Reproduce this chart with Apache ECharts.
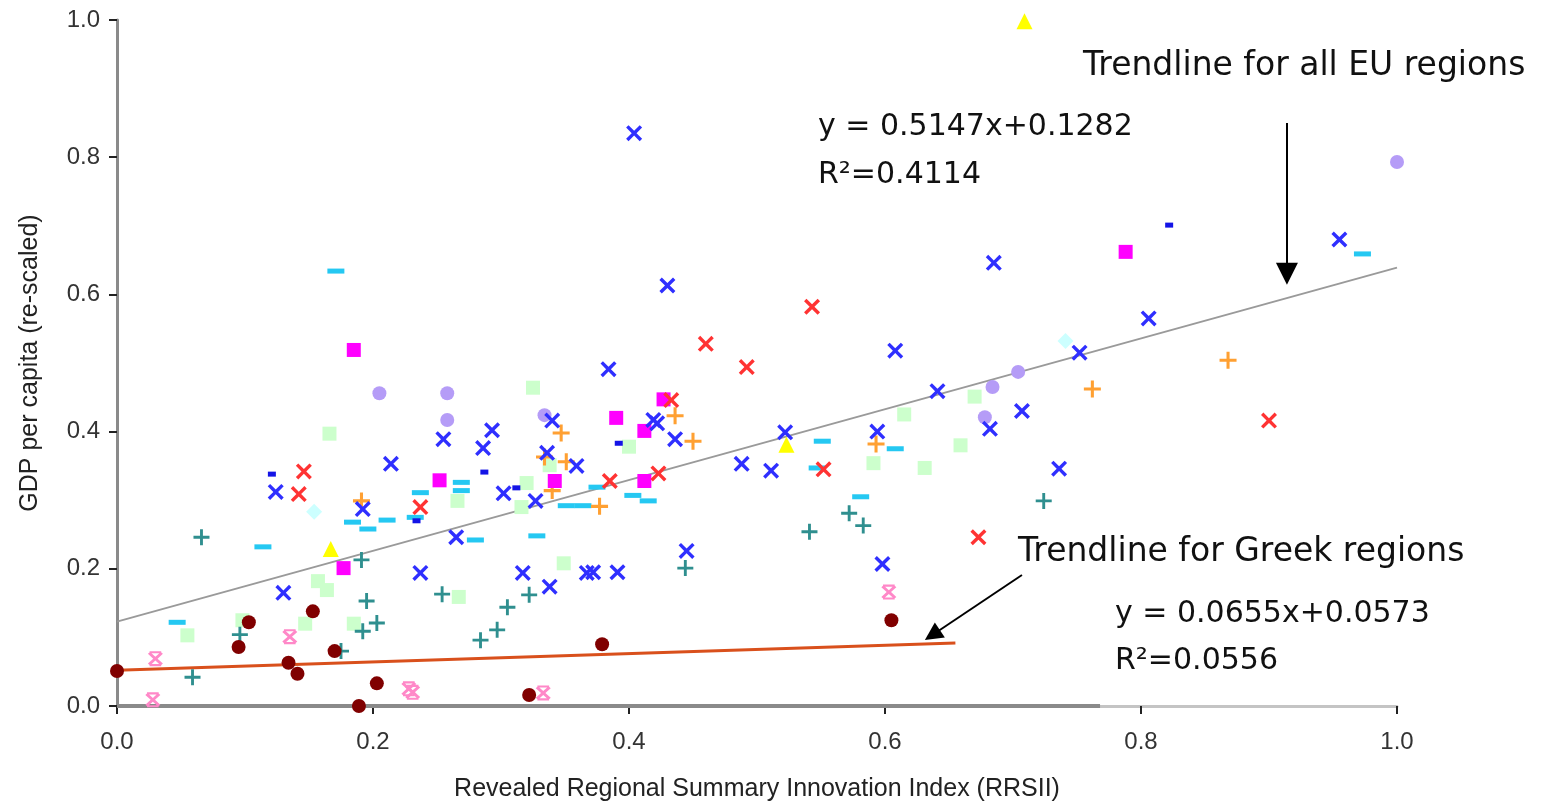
<!DOCTYPE html>
<html>
<head>
<meta charset="utf-8">
<script src="https://cdn.jsdelivr.net/npm/echarts/dist/echarts.min.js"></script>
<style>
html,body{margin:0;padding:0;background:#fff;}
#chart{width:1542px;height:803px;}
</style>
</head>
<body>
<div id="chart"></div>
<script>
// ---------- DATA ----------
var xTicks = [0.0, 0.2, 0.4, 0.6, 0.8, 1.0];
var yTicks = [0.0, 0.2, 0.4, 0.6, 0.8, 1.0];

var blueX = [[0.124,0.312],[0.130,0.165],[0.192,0.287],[0.214,0.353],[0.237,0.194],[0.255,0.389],[0.265,0.246],[0.286,0.376],[0.293,0.402],[0.302,0.310],[0.317,0.194],[0.327,0.299],[0.336,0.369],[0.338,0.174],[0.340,0.416],[0.359,0.350],[0.367,0.194],[0.372,0.195],[0.384,0.491],[0.391,0.195],[0.404,0.835],[0.419,0.417],[0.422,0.412],[0.430,0.613],[0.436,0.389],[0.445,0.226],[0.488,0.353],[0.511,0.343],[0.522,0.399],[0.594,0.400],[0.598,0.207],[0.608,0.518],[0.641,0.459],[0.682,0.404],[0.685,0.646],[0.707,0.430],[0.736,0.346],[0.752,0.515],[0.806,0.565],[0.955,0.680]];
var redX = [[0.142,0.309],[0.146,0.342],[0.237,0.290],[0.385,0.328],[0.423,0.339],[0.433,0.446],[0.460,0.528],[0.492,0.494],[0.543,0.582],[0.552,0.345],[0.673,0.246],[0.900,0.416]];
var pinkStar = [[0.028,0.009],[0.030,0.069],[0.135,0.101],[0.228,0.025],[0.231,0.020],[0.333,0.019],[0.603,0.166]];
var cyanDash = [[0.047,0.122],[0.114,0.232],[0.171,0.634],[0.184,0.268],[0.196,0.258],[0.211,0.271],[0.233,0.275],[0.237,0.311],[0.269,0.326],[0.269,0.314],[0.280,0.242],[0.328,0.248],[0.351,0.292],[0.364,0.292],[0.375,0.319],[0.403,0.307],[0.415,0.299],[0.547,0.347],[0.551,0.386],[0.581,0.305],[0.608,0.375],[0.973,0.659]];
var blueDash = [[0.121,0.338],[0.234,0.270],[0.287,0.341],[0.312,0.318],[0.392,0.383],[0.822,0.701]];
var magentaSq = [[0.177,0.201],[0.185,0.519],[0.252,0.329],[0.342,0.328],[0.390,0.420],[0.412,0.401],[0.412,0.328],[0.427,0.447],[0.788,0.662]];
var greenSq = [[0.055,0.103],[0.098,0.125],[0.147,0.120],[0.157,0.182],[0.164,0.169],[0.166,0.397],[0.185,0.120],[0.266,0.299],[0.267,0.159],[0.316,0.290],[0.320,0.325],[0.325,0.464],[0.338,0.351],[0.349,0.208],[0.400,0.378],[0.591,0.354],[0.615,0.425],[0.631,0.347],[0.659,0.380],[0.670,0.451]];
var purpleCircle = [[0.205,0.456],[0.258,0.456],[0.258,0.417],[0.334,0.424],[0.678,0.421],[0.684,0.465],[0.704,0.487],[1.0,0.793]];
var greekCircle = [[0.0,0.051],[0.095,0.086],[0.103,0.122],[0.134,0.063],[0.141,0.047],[0.153,0.138],[0.170,0.080],[0.189,0.0],[0.203,0.033],[0.322,0.016],[0.379,0.090],[0.605,0.125]];
var tealPlus = [[0.059,0.042],[0.066,0.246],[0.096,0.104],[0.175,0.080],[0.191,0.213],[0.192,0.109],[0.195,0.153],[0.203,0.121],[0.254,0.163],[0.284,0.096],[0.297,0.111],[0.305,0.144],[0.322,0.162],[0.444,0.201],[0.541,0.254],[0.572,0.281],[0.583,0.263],[0.724,0.299]];
var orangePlus = [[0.191,0.299],[0.334,0.363],[0.340,0.314],[0.347,0.398],[0.351,0.356],[0.377,0.291],[0.436,0.423],[0.450,0.386],[0.593,0.382],[0.762,0.462],[0.868,0.504]];
var yellowTri = [[0.167,0.229],[0.523,0.381],[0.709,0.998]];
var lightCyanDia = [[0.154,0.283],[0.741,0.532]];

var euTrend = [[0, 0.123], [1, 0.639]];
var greekTrend = [[0, 0.052], [0.655, 0.092]];
var xAxisShade = [[0, 0], [0.768, 0]];

var euArrow = [[0.914, 0.850], [0.914, 0.630]];
var greekArrow = [[0.707, 0.191], [0.637, 0.1035]];

var xAxisTitle = 'Revealed Regional Summary Innovation Index (RRSII)';
var yAxisTitle = 'GDP per capita (re-scaled)';
var euLabel = 'Trendline for all EU regions';
var euEq = 'y = 0.5147x+0.1282';
var euR2 = 'R\u00B2=0.4114';
var grLabel = 'Trendline for Greek regions';
var grEq = 'y = 0.0655x+0.0573';
var grR2 = 'R\u00B2=0.0556';

// ---------- SYMBOLS ----------
var X_PATH = 'path://M0,1.5 L1.5,0 L5,3.5 L8.5,0 L10,1.5 L6.5,5 L10,8.5 L8.5,10 L5,6.5 L1.5,10 L0,8.5 L3.5,5 Z';
var PLUS_PATH = 'path://M4.1,0 H5.9 V4.1 H10 V5.9 H5.9 V10 H4.1 V5.9 H0 V4.1 H4.1 Z';
var STAR_PATH = 'path://M0.5,1.8 L1.8,0.5 L5,3.7 L8.2,0.5 L9.5,1.8 L6.3,5 L9.5,8.2 L8.2,9.5 L5,6.3 L1.8,9.5 L0.5,8.2 L3.7,5 Z M1.5,0 H8.5 V1.4 H1.5 Z M1.5,8.6 H8.5 V10 H1.5 Z';

var annFont = "'DejaVu Sans',Verdana,sans-serif";
var axFont = "'Liberation Sans',Arial,sans-serif";

function scatter(name, data, symbol, size, color, z) {
  return {
    name: name, type: 'scatter', data: data, symbol: symbol, symbolSize: size,
    itemStyle: {color: color, opacity: 1}, clip: false, z: z || 3, silent: true
  };
}
function arrowLine(pts, size) {
  return [{coord: pts[0], symbol: 'none'}, {coord: pts[1], symbol: 'triangle', symbolSize: size}];
}

var chart = echarts.init(document.getElementById('chart'), null, {renderer: 'canvas'});
var option = {
  animation: false,
  backgroundColor: '#ffffff',
  grid: {left: 117, right: 145, top: 20, bottom: 97, containLabel: false, outerBoundsMode: 'none'},
  xAxis: {
    type: 'value', min: xTicks[0], max: xTicks[xTicks.length - 1], interval: 0.2,
    name: xAxisTitle, nameLocation: 'middle', nameGap: 71,
    nameTextStyle: {fontFamily: axFont, fontSize: 25, color: '#222'},
    axisLine: {show: true, lineStyle: {color: '#c4c4c4', width: 3}},
    axisTick: {show: true, length: 8, lineStyle: {color: '#222', width: 2}},
    axisLabel: {fontFamily: axFont, fontSize: 24, color: '#333', margin: 24,
      formatter: function (v) { return v.toFixed(1); }},
    splitLine: {show: false}
  },
  yAxis: {
    type: 'value', min: yTicks[0], max: yTicks[yTicks.length - 1], interval: 0.2,
    name: yAxisTitle, nameLocation: 'middle', nameGap: 74, nameRotate: 90,
    nameTextStyle: {fontFamily: axFont, fontSize: 25, color: '#222'},
    axisLine: {show: true, lineStyle: {color: '#8a8a8a', width: 3}},
    axisTick: {show: true, length: 8, lineStyle: {color: '#222', width: 2}},
    axisLabel: {fontFamily: axFont, fontSize: 24, color: '#333', margin: 17,
      formatter: function (v) { return v.toFixed(1); }},
    splitLine: {show: false}
  },
  series: [
    {name: 'axisShade', type: 'line', data: xAxisShade, showSymbol: false, symbol: 'none', clip: false, silent: true, z: 1,
      lineStyle: {color: '#8a8a8a', width: 4}},
    {name: 'EU trend', type: 'line', data: euTrend, showSymbol: false, symbol: 'none', silent: true, z: 2,
      lineStyle: {color: '#9a9a9a', width: 2},
      markLine: {silent: true, symbol: ['none', 'triangle'], label: {show: false},
        lineStyle: {color: '#000', width: 2, type: 'solid'}, emphasis: {disabled: true},
        data: [arrowLine(euArrow, 22), arrowLine(greekArrow, 18)]}},
    {name: 'Greek trend', type: 'line', data: greekTrend, showSymbol: false, symbol: 'none', silent: true, z: 2,
      lineStyle: {color: '#d9501c', width: 3}},
    scatter('green', greenSq, 'rect', 14, '#ccffcc'),
    scatter('cyan', cyanDash, 'rect', [17, 5], '#25c8f2'),
    scatter('teal', tealPlus, PLUS_PATH, 16, '#2f8f8f'),
    scatter('orange', orangePlus, PLUS_PATH, 17, '#ffa032'),
    scatter('purple', purpleCircle, 'circle', 14, '#b59cf7'),
    scatter('magenta', magentaSq, 'rect', 14, '#ff00ff'),
    scatter('lightcyan', lightCyanDia, 'diamond', 16, '#ccffff'),
    scatter('blueX', blueX, X_PATH, 16, '#2f2fff'),
    scatter('redX', redX, X_PATH, 16, '#ff3333'),
    scatter('blueDash', blueDash, 'rect', [8, 5], '#1414e6'),
    scatter('pink', pinkStar, STAR_PATH, 15, '#ff88c8'),
    scatter('yellow', yellowTri, 'triangle', 16, '#ffff00'),
    scatter('greek', greekCircle, 'circle', 14, '#800000', 4)
  ],
  graphic: [
    {type: 'text', left: 1083, top: 50, style: {text: euLabel, font: '33px ' + annFont, fill: '#111'}},
    {type: 'text', left: 818, top: 112, style: {text: euEq, font: '30px ' + annFont, fill: '#111'}},
    {type: 'text', left: 818, top: 160, style: {text: euR2, font: '30px ' + annFont, fill: '#111'}},
    {type: 'text', left: 1018, top: 536, style: {text: grLabel, font: '33px ' + annFont, fill: '#111'}},
    {type: 'text', left: 1115, top: 599, style: {text: grEq, font: '30px ' + annFont, fill: '#111'}},
    {type: 'text', left: 1115, top: 646, style: {text: grR2, font: '30px ' + annFont, fill: '#111'}}
  ]
};
chart.setOption(option);
</script>
</body>
</html>
